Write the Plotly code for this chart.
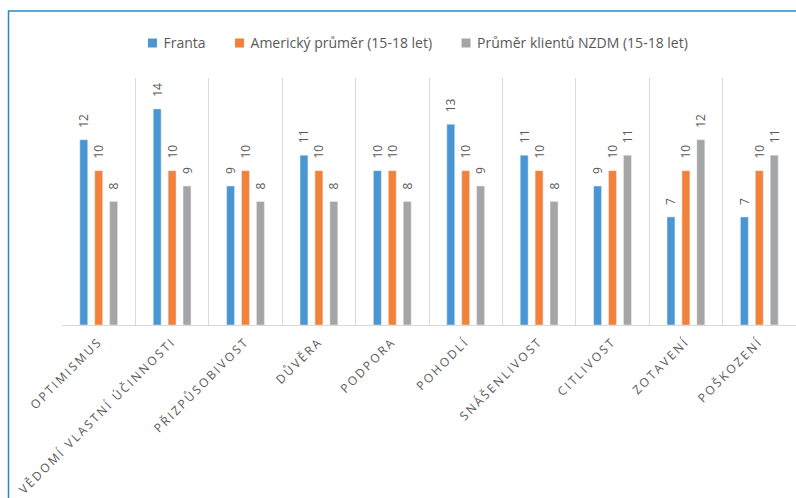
import plotly.graph_objects as go

categories = ["OPTIMISMUS", "VĚDOMÍ VLASTNÍ ÚČINNOSTI", "PŘIZPŮSOBIVOST", "DŮVĚRA",
              "PODPORA", "POHODLÍ", "SNÁŠENLIVOST", "CITLIVOST", "ZOTAVENÍ", "POŠKOZENÍ"]
franta = [12, 14, 9, 11, 10, 13, 11, 9, 7, 7]
americky = [10, 10, 10, 10, 10, 10, 10, 10, 10, 10]
nzdm = [8, 9, 8, 8, 8, 9, 8, 11, 12, 11]

series = [
    ("Franta", franta, "#4A96D2"),
    ("Americký průměr (15-18 let)", americky, "#F2823A"),
    ("Průměr klientů NZDM (15-18 let)", nzdm, "#A5A5A5"),
]

TEXT = "#595959"
FONT = "Open Sans"

fig = go.Figure()
for name, vals, color in series:
    fig.add_trace(go.Bar(
        name=name, x=categories, y=vals, marker_color=color,
        text=vals, textposition="outside", textangle=-90, constraintext="none",
        textfont=dict(family=FONT, size=12, color=TEXT),
        cliponaxis=False,
    ))

W, H = 796, 498
ml, mr, mt, mb = 62, 0, 78, 173

fig.update_layout(
    width=W, height=H,
    margin=dict(l=ml, r=mr, t=mt, b=mb),
    paper_bgcolor="white", plot_bgcolor="white",
    barmode="group", bargap=0.39, bargroupgap=0.47,
    font=dict(family=FONT, color=TEXT),
    legend=dict(orientation="h", x=0.472, xanchor="center", y=1.14, yanchor="middle",
                font=dict(family=FONT, size=14, color=TEXT), itemwidth=30),
    xaxis=dict(tickson="boundaries", showgrid=True, gridcolor="#D9D9D9", gridwidth=1,
               ticks="", tickangle=-45, showline=True, linecolor="#D9D9D9", linewidth=1,
               ticklabelstandoff=4,
               tickfont=dict(family=FONT, size=12, color=TEXT)),
    yaxis=dict(range=[0, 16], visible=False, showgrid=False),
    shapes=[dict(type="rect", xref="paper", yref="paper",
                 x0=(8.5 - ml) / (W - ml - mr), x1=(W + 10 - ml) / (W - ml - mr),
                 y0=(H - mb - (H + 10)) / (H - mt - mb), y1=(H - mb - 11) / (H - mt - mb),
                 line=dict(color="#2E86C1", width=1.5), layer="below")],
)

# Spaced-out category captions, extra room above the value labels,
# and small square legend swatches sitting close to their names
post = """
var gd = document.getElementById('{plot_id}');
gd.querySelectorAll('.xtick text').forEach(function (t) {
    t.style.letterSpacing = '2.2px';
});
gd.querySelectorAll('.bars .point text').forEach(function (t) {
    var tr = t.getAttribute('transform') || '';
    t.setAttribute('transform', 'translate(0,-9) ' + tr);
});
gd.querySelectorAll('.legend .legendpoints path').forEach(function (p) {
    var tr = p.getAttribute('transform') || '';
    p.setAttribute('d', 'M4.5,4.5H-4.5V-4.5H4.5Z');
    p.style.strokeWidth = '0px';
    p.setAttribute('transform', tr + ' translate(9,0)');
});
"""

fig.write_html("out.html", post_script=post)
